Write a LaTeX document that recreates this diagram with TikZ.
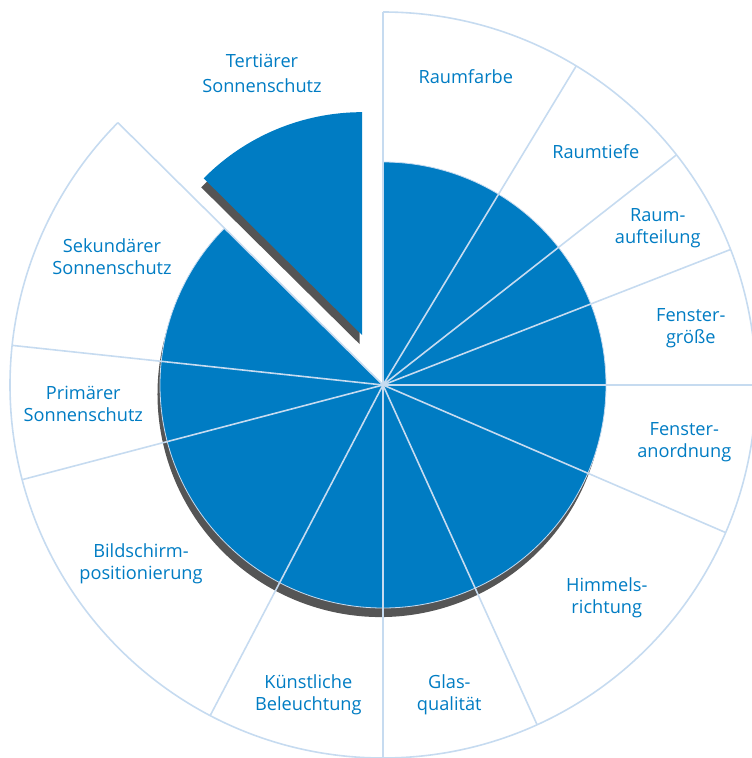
\documentclass[tikz,border=0pt]{standalone}
\usepackage{fontspec}
\setmainfont{Open Sans}
\usetikzlibrary{calc}
\definecolor{fhblue}{RGB}{0,124,195}
\definecolor{fhline}{RGB}{198,219,240}
\definecolor{fhshadow}{RGB}{85,85,85}
\begin{document}
\begin{tikzpicture}[x=1pt,y=1pt,
  lbl/.style={text=fhblue, font=\fontsize{18.2}{22}\selectfont, align=center, inner sep=0pt},
  divline/.style={draw=fhline, line width=1.6pt},
  wedgefill/.style={fill=fhblue, draw=fhline, line width=0.8pt},
  shadowfill/.style={fill=fhshadow}]
\useasboundingbox (-383,-373) rectangle (369,385);
\coordinate (c) at (0,0);
\coordinate (cs) at (-2.5,-9);
\coordinate (e) at (112.65:54);
\coordinate (es) at ($(e)+(-2.5,-9)$);
% shadows
\fill[shadowfill] (cs) -- ($(cs)+(70:223)$) arc[start angle=70, end angle=-222, radius=223] -- cycle;
\fill[shadowfill] (es) -- ($(es)+(90:223)$) arc[start angle=90, end angle=135.3, radius=223] -- cycle;
% main pie
\filldraw[wedgefill] (c) -- (90:223) arc[start angle=90, end angle=-224.7, radius=223] -- cycle;
% exploded wedge
\fill[fhblue] (e) -- ($(e)+(90:223)$) arc[start angle=90, end angle=135.3, radius=223] -- cycle;
% outer ring
\draw[divline] (90:373) arc[start angle=90, end angle=-224.7, radius=373];
\foreach \a in {90,58.8,38.1,21.3,0,-23.3,-65.6,-90,-117.6,-165.3,-186.1,135.3}
  \draw[divline] (c) -- (\a:373);
% labels
\node[lbl, font=\fontsize{18.2}{25}\selectfont] (tert) at (-121,311.1) {Tertiärer\\Sonnenschutz};
\node[lbl] (farbe) at (82.8,308.6) {Raumfarbe};
\node[lbl] (tiefe) at (212.8,233.6) {Raumtiefe};
\node[lbl] (auft) at (274.7,157.1) {Raum-\\aufteilung};
\node[lbl] (groesse) at (307.8,56.8) {Fenster-\\größe};
\node[lbl] (anord) at (301.3,-57.4) {Fenster-\\anordnung};
\node[lbl] (himmel) at (223.8,-213.2) {Himmels-\\richtung};
\node[lbl] (glas) at (66.3,-309.8) {Glas-\\qualität};
\node[lbl] (kuenst) at (-74.7,-309.8) {Künstliche\\Beleuchtung};
\node[lbl] (bild) at (-242,-179.1) {Bildschirm-\\positionierung};
\node[lbl] (prim) at (-299.7,-18.5) {Primärer\\Sonnenschutz};
\node[lbl] (sek) at (-271,128.5) {Sekundärer\\Sonnenschutz};
\end{tikzpicture}
\end{document}
